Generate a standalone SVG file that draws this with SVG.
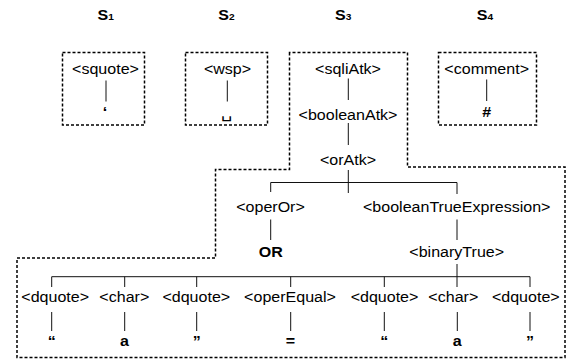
<svg xmlns="http://www.w3.org/2000/svg" width="574" height="362" viewBox="0 0 574 362">
<style>
.t{font-family:"Liberation Sans",Arial,Helvetica,sans-serif;font-size:15px;fill:#000;text-anchor:middle}
.s{text-anchor:start;font-weight:bold}
.b{font-weight:bold}
.c{stroke:#111;stroke-width:1;fill:none}
.d{stroke:#000;stroke-width:1.5;fill:none;stroke-dasharray:3 2}
</style>
<rect width="574" height="362" fill="#fff"/>
<g id="scopes">
<rect class="d" x="62.5" y="52.5" width="82" height="72.5"/>
<rect class="d" x="185.5" y="52.5" width="82" height="72.5"/>
<rect class="d" x="438.5" y="52.5" width="98" height="72.5"/>
<path class="d" d="M289.5 52.5V169.5H215.5V258H17V357.5H565V167H407.5V52.5Z"/>
</g>
<g id="headers">
<text class="t s" transform="translate(97.5 19.5) scale(1.07 1)">S<tspan font-size="9.5">1</tspan></text>
<text class="t s" transform="translate(218.3 19.5) scale(1.07 1)">S<tspan font-size="9.5">2</tspan></text>
<text class="t s" transform="translate(335 19.5) scale(1.07 1)">S<tspan font-size="9.5">3</tspan></text>
<text class="t s" transform="translate(476.7 19.5) scale(1.07 1)">S<tspan font-size="9.5">4</tspan></text>
</g>
<g id="connectors">
<path class="c" d="M106 80.5V101.5M227.3 80.5V101.5M486.7 79.5V101"/>
<path class="c" d="M348.3 78.5V100M348.3 123V145M348.3 170V193"/>
<path class="c" d="M270.7 182.5H457M270.7 182.5V192M457 182.5V194"/>
<path class="c" d="M270.7 219.5V240M457 219.5V240M457 264V287"/>
<path class="c" d="M51.7 276.7H530M51.7 276.7V287M124.7 276.7V287M196.7 276.7V287M290.7 276.7V287M384.3 276.7V287M530 276.7V287"/>
<path class="c" d="M51.7 312V331M124.7 312V331M196.7 312V331M290.7 312V331M384.3 312V331M457.3 312V331M530 312V331"/>
</g>
<g id="squote"><text class="t" transform="translate(105.5 74) scale(1.07 1)">&lt;squote&gt;</text></g>
<g id="squote-term"><text class="t b" transform="translate(105 117) scale(1.07 1)">‘</text></g>
<g id="wsp"><text class="t" transform="translate(227.5 74) scale(1.07 1)">&lt;wsp&gt;</text></g>
<g id="wsp-term"><text class="t" style="font-family:'DejaVu Sans',sans-serif" transform="translate(226.7 118) scale(1.2 1)">␣</text></g>
<g id="comment"><text class="t" transform="translate(486.7 74) scale(1.07 1)">&lt;comment&gt;</text></g>
<g id="comment-term"><text class="t b" transform="translate(486.7 117) scale(1.07 1)">#</text></g>
<g id="sqliAtk"><text class="t" transform="translate(348 74) scale(1.07 1)">&lt;sqliAtk&gt;</text></g>
<g id="booleanAtk"><text class="t" transform="translate(348 119.5) scale(1.07 1)">&lt;booleanAtk&gt;</text></g>
<g id="orAtk"><text class="t" transform="translate(348 165) scale(1.07 1)">&lt;orAtk&gt;</text></g>
<g id="operOr"><text class="t" transform="translate(270.5 212) scale(1.07 1)">&lt;operOr&gt;</text></g>
<g id="OR"><text class="t b" transform="translate(270.7 257) scale(1.07 1)">OR</text></g>
<g id="booleanTrueExpression"><text class="t" transform="translate(456.7 212) scale(1.07 1)">&lt;booleanTrueExpression&gt;</text></g>
<g id="binaryTrue"><text class="t" transform="translate(456.7 257) scale(1.07 1)">&lt;binaryTrue&gt;</text></g>
<g id="dquote1"><text class="t" transform="translate(55.2 302) scale(1.07 1)">&lt;dquote&gt;</text><text class="t b" transform="translate(51.7 346) scale(1.07 1)">“</text></g>
<g id="char1"><text class="t" transform="translate(124.3 302) scale(1.07 1)">&lt;char&gt;</text><text class="t b" transform="translate(124.5 346) scale(1.07 1)">a</text></g>
<g id="dquote2"><text class="t" transform="translate(196.3 302) scale(1.07 1)">&lt;dquote&gt;</text><text class="t b" transform="translate(196.7 346) scale(1.07 1)">”</text></g>
<g id="operEqual"><text class="t" transform="translate(290 302) scale(1.07 1)">&lt;operEqual&gt;</text><text class="t b" transform="translate(290.5 346) scale(1.07 1)">=</text></g>
<g id="dquote3"><text class="t" transform="translate(384.5 302) scale(1.07 1)">&lt;dquote&gt;</text><text class="t b" transform="translate(384.3 346) scale(1.07 1)">“</text></g>
<g id="char2"><text class="t" transform="translate(453.3 302) scale(1.07 1)">&lt;char&gt;</text><text class="t b" transform="translate(457.3 346) scale(1.07 1)">a</text></g>
<g id="dquote4"><text class="t" transform="translate(525.8 302) scale(1.07 1)">&lt;dquote&gt;</text><text class="t b" transform="translate(530 346) scale(1.07 1)">”</text></g>
</svg>
